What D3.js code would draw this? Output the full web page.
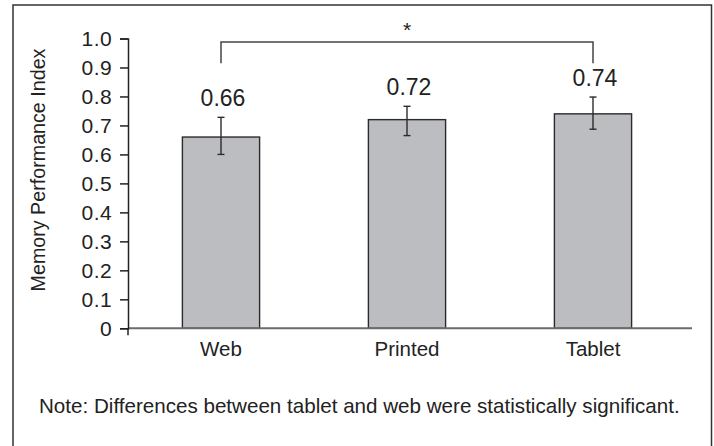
<!DOCTYPE html>
<html>
<head>
<meta charset="utf-8">
<script src="https://cdn.jsdelivr.net/npm/d3@7"></script>
<style>
  html, body { margin: 0; padding: 0; background: #fff; }
  svg { display: block; }
  text { font-family: "Liberation Sans", Arial, sans-serif; fill: #222; }
</style>
</head>
<body>
<svg id="chart" width="714" height="446"></svg>
<script>
// Memory performance by reading medium
const categories = ["Web", "Printed", "Tablet"];
const means = [0.66, 0.72, 0.74];
const errLow = [0.600, 0.665, 0.687];
const errHigh = [0.728, 0.766, 0.798];
const yTicks = [0, 0.1, 0.2, 0.3, 0.4, 0.5, 0.6, 0.7, 0.8, 0.9, 1.0];
const sigPair = ["Web", "Tablet"];
const sigLabel = "*";
const yTitle = "Memory Performance Index";
const note = "Note: Differences between tablet and web were statistically significant.";

const svg = d3.select("#chart");

// Outer frame
svg.append("rect")
  .attr("x", 13).attr("y", 5)
  .attr("width", 698.5).attr("height", 460)
  .attr("fill", "none").attr("stroke", "#333").attr("stroke-width", 1.5);

const plot = { left: 128, right: 686, top: 38.5, bottom: 328.3 };

const x = d3.scaleBand()
  .domain(categories)
  .range([plot.left, plot.right])
  .paddingInner(0.585)
  .paddingOuter(0.2925);

const y = d3.scaleLinear()
  .domain([0, 1])
  .range([plot.bottom, plot.top]);

const rows = categories.map((c, i) => ({ cat: c, mean: means[i], lo: errLow[i], hi: errHigh[i] }));

// Bars
svg.append("g").selectAll("rect")
  .data(rows).join("rect")
  .attr("x", d => x(d.cat))
  .attr("y", d => y(d.mean))
  .attr("width", x.bandwidth())
  .attr("height", d => y(0) - y(d.mean))
  .attr("fill", "#bcbdc0")
  .attr("stroke", "#2b2b2b")
  .attr("stroke-width", 1.4);

// Category baseline
svg.append("line")
  .attr("x1", plot.left).attr("x2", 692)
  .attr("y1", y(0)).attr("y2", y(0))
  .attr("stroke", "#6b6b6b").attr("stroke-width", 2);

// Y axis
const yAxis = svg.append("g")
  .attr("transform", `translate(${plot.left},0)`)
  .call(d3.axisLeft(y)
    .tickValues(yTicks)
    .tickSize(8)
    .tickPadding(8)
    .tickFormat(d => d === 0 ? "0" : d3.format(".1f")(d)));
yAxis.selectAll("path.domain").attr("stroke", "#222").attr("stroke-width", 1.5);
yAxis.selectAll(".tick line").attr("stroke", "#222").attr("stroke-width", 1.5);
yAxis.selectAll(".tick text")
  .attr("fill", "#222")
  .style("font-family", '"Liberation Sans", Arial, sans-serif')
  .style("font-size", "21px")
  .style("letter-spacing", "0.4px");

// Small downward extension of the value axis below the baseline
svg.append("line")
  .attr("x1", plot.left).attr("x2", plot.left)
  .attr("y1", y(0)).attr("y2", y(0) + 7)
  .attr("stroke", "#222").attr("stroke-width", 1.5);

// X axis labels
const xAxis = svg.append("g")
  .attr("transform", `translate(0,${y(0)})`)
  .call(d3.axisBottom(x).tickSize(0).tickPadding(13.5));
xAxis.select("path.domain").remove();
xAxis.selectAll(".tick text")
  .attr("fill", "#222")
  .style("font-family", '"Liberation Sans", Arial, sans-serif')
  .style("font-size", "20.5px");

// Error bars
const cap = 3.5;
const eb = svg.append("g").attr("stroke", "#2b2b2b").attr("stroke-width", 1.4);
rows.forEach(d => {
  const cx = x(d.cat) + x.bandwidth() / 2;
  eb.append("line").attr("x1", cx).attr("x2", cx).attr("y1", y(d.lo)).attr("y2", y(d.hi));
  eb.append("line").attr("x1", cx - cap).attr("x2", cx + cap).attr("y1", y(d.lo)).attr("y2", y(d.lo));
  eb.append("line").attr("x1", cx - cap).attr("x2", cx + cap).attr("y1", y(d.hi)).attr("y2", y(d.hi));
});

// Value labels
svg.append("g").selectAll("text")
  .data(rows).join("text")
  .attr("x", d => x(d.cat) + x.bandwidth() / 2 + 2)
  .attr("y", d => y(d.hi) - 11)
  .attr("text-anchor", "middle")
  .style("font-size", "23px")
  .text(d => d3.format(".2f")(d.mean));

// Significance bracket
const bx1 = x(sigPair[0]) + x.bandwidth() / 2;
const bx2 = x(sigPair[1]) + x.bandwidth() / 2;
const bTop = y(0.988);
const bEnd = y(0.915);
svg.append("path")
  .attr("d", `M${bx1},${bEnd}V${bTop}H${bx2}V${bEnd}`)
  .attr("fill", "none").attr("stroke", "#444").attr("stroke-width", 1.5);
svg.append("text")
  .attr("x", (bx1 + bx2) / 2)
  .attr("y", bTop - 5)
  .attr("text-anchor", "middle")
  .style("font-size", "21px")
  .text(sigLabel);

// Y axis title
svg.append("text")
  .attr("transform", `translate(45,170) rotate(-90)`)
  .attr("text-anchor", "middle")
  .style("font-size", "19.7px")
  .text(yTitle);

// Footnote
svg.append("text")
  .attr("x", 39)
  .attr("y", 413)
  .style("font-size", "20.6px")
  .text(note);
</script>
</body>
</html>
